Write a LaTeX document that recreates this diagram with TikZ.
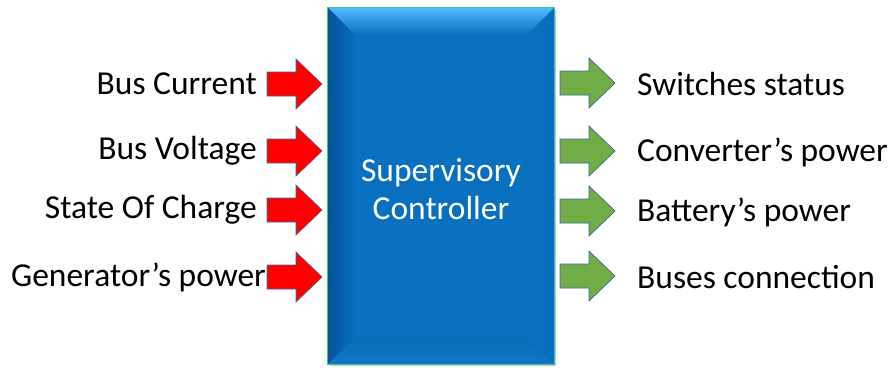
\documentclass[tikz,border=0pt]{standalone}
\usepackage{fontspec}
\setmainfont{Carlito}
\definecolor{ctrlblue}{RGB}{8,112,190}
\definecolor{ctrldark}{RGB}{5,82,155}
\definecolor{ctrllight}{RGB}{80,185,255}
\definecolor{ctrledge}{RGB}{50,205,140}
\definecolor{inred}{RGB}{255,0,0}
\definecolor{outgreen}{RGB}{112,173,71}
\definecolor{arrowline}{RGB}{65,105,150}
\tikzset{
  label text/.style={font=\fontsize{33.5}{39}\selectfont, inner sep=0pt},
  in label/.style={label text, anchor=east},
  out label/.style={label text, anchor=west},
  ctrlbox/.style={fill=ctrlblue,
    minimum width=226pt, minimum height=356pt, inner sep=0pt},
  ctrl text/.style={text=white, align=center,
    font=\fontsize{33.5}{38}\selectfont},
  block arrow/.style={draw=arrowline, line width=0.7pt, line join=miter},
  pics/blockarrow/.style={code={
    \path[block arrow, fill=#1]
      (0,-12) -- (29,-12) -- (29,-25) -- (55,0) -- (29,25) -- (29,12) -- (0,12) -- cycle;
  }}
}
\begin{document}
\begin{tikzpicture}[x=1pt,y=-1pt]
\useasboundingbox (0,0) rectangle (893,367);

% soft shadow under the controller block
\fill[black!22] (330,10) rectangle (556,366);
% controller block with bevelled rim
\node[ctrlbox] (sc) at (441,186) {};
\begin{scope}
  \def\bev{27}
  \shade[top color=ctrllight, bottom color=ctrlblue]
    (sc.north west) -- (sc.north east) -- ([xshift=-\bev pt,yshift=-\bev pt]sc.north east)
    -- ([xshift=\bev pt,yshift=-\bev pt]sc.north west) -- cycle;
  \shade[left color=ctrldark, right color=ctrlblue]
    (sc.north west) -- ([xshift=\bev pt,yshift=-\bev pt]sc.north west)
    -- ([xshift=\bev pt,yshift=\bev pt]sc.south west) -- (sc.south west) -- cycle;
  \shade[left color=ctrlblue, right color=ctrlblue!92!ctrldark]
    (sc.north east) -- ([xshift=-\bev pt,yshift=-\bev pt]sc.north east)
    -- ([xshift=-\bev pt,yshift=\bev pt]sc.south east) -- (sc.south east) -- cycle;
  \shade[top color=ctrlblue!82!ctrldark, bottom color=ctrlblue!90!ctrllight]
    (sc.south west) -- ([xshift=\bev pt,yshift=\bev pt]sc.south west)
    -- ([xshift=-\bev pt,yshift=\bev pt]sc.south east) -- (sc.south east) -- cycle;
  \draw[ctrledge, line width=1.3pt] (sc.north west) rectangle (sc.south east);
\end{scope}
\node[ctrl text] (sctext) at (441,189) {Supervisory\\Controller};

% inputs
\node[in label] (i1) at (257,84) {Bus Current};
\node[in label] (i2) at (257,151) {Bus Voltage};
\node[in label] (i3) at (257,210) {State Of Charge};
\node[in label] (i4) at (266,277) {Generator’s power};
\pic at (267,84) {blockarrow=inred};
\pic at (267,151) {blockarrow=inred};
\pic at (267,210) {blockarrow=inred};
\pic at (267,277) {blockarrow=inred};

% outputs
\pic at (560,83) {blockarrow=outgreen};
\pic at (560,151) {blockarrow=outgreen};
\pic at (560,211) {blockarrow=outgreen};
\pic at (560,276) {blockarrow=outgreen};
\node[out label] (o1) at (637,84) {Switches status};
\node[out label] (o2) at (637,152) {Converter’s power};
\node[out label] (o3) at (637,212) {Battery’s power};
\node[out label] (o4) at (637,277) {Buses connection};
\end{tikzpicture}
\end{document}
